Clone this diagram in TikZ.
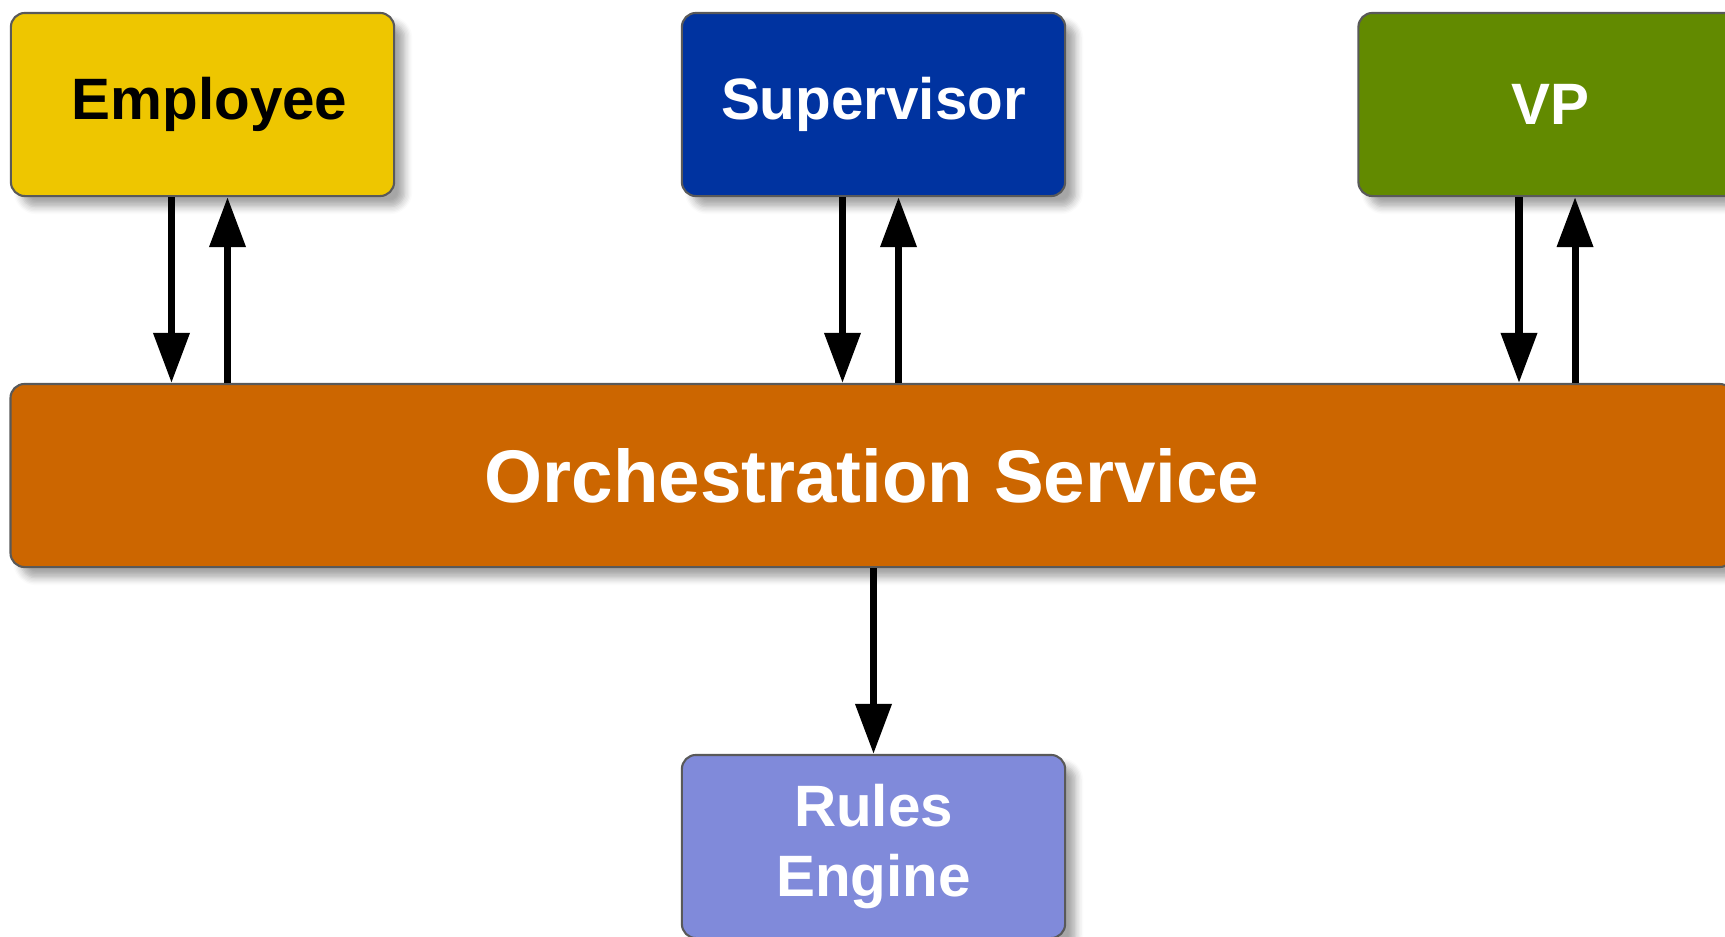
\documentclass[tikz,border=0pt]{standalone}
\usepackage{fontspec}
\setmainfont{Liberation Sans}
\usetikzlibrary{arrows.meta,shadows.blur,positioning}
\definecolor{empyellow}{RGB}{238,198,0}
\definecolor{supblue}{RGB}{0,51,160}
\definecolor{vpgreen}{RGB}{98,138,0}
\definecolor{orchorange}{RGB}{204,102,0}
\definecolor{rulesblue}{RGB}{128,138,218}
\begin{document}
\begin{tikzpicture}[x=0.01cm,y=-0.01cm,
    actor/.style={draw=black!65,line width=0.6pt,rounded corners=4pt,
        minimum width=3.83cm,minimum height=1.83cm,inner sep=0pt,align=center,
        font=\fontsize{16.6}{20}\selectfont\bfseries,
        blur shadow={shadow xshift=3pt,shadow yshift=-3pt,shadow opacity=35,shadow blur steps=6}},
    flow/.style={line width=2pt,-{Triangle[width=0.35cm,length=0.5cm]}}]
    \useasboundingbox (0,0) rectangle (1725,936);
    \node[actor,fill=empyellow] (emp) at (202.5,104.5) {\hspace*{0.14cm}Employee};
    \node[actor,fill=supblue,text=white] (sup) at (873.5,104.5) {Supervisor};
    \node[actor,fill=vpgreen,text=white] (vp) at (1550,104.5) {VP};
    \node[actor,fill=orchorange,text=white,minimum width=17.22cm,
        font=\fontsize{21.2}{26}\selectfont\bfseries] (orch) at (872,475.5) {Orchestration Service};
    \node[actor,fill=rulesblue,text=white] (rules) at (873.5,846.5) {Rules\\Engine};
    \foreach \n in {emp,sup,vp}{
        \draw[flow] ([xshift=-0.31cm]\n.south) -- ([xshift=-0.31cm]\n.south |- orch.north);
        \draw[flow] ([xshift=0.25cm]\n.south |- orch.north) -- ([xshift=0.25cm]\n.south);
    }
    \draw[flow] (orch.south -| rules.north) -- (rules.north);
\end{tikzpicture}
\end{document}
